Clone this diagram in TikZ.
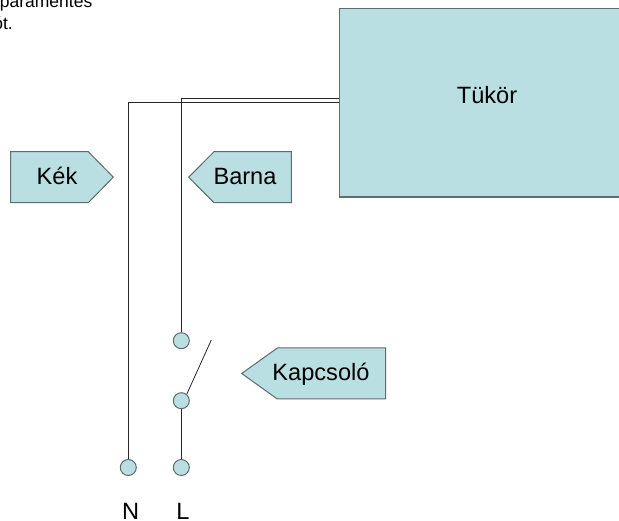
\documentclass[tikz,border=0pt]{standalone}
\usepackage{fontspec}
\setmainfont{Liberation Sans}
\definecolor{fillc}{HTML}{BADFE2}
\definecolor{edgec}{HTML}{5F6B6C}
\tikzset{
  x=1pt,y=-1pt,
  wire/.style={draw=black!85,line width=0.9pt},
  shapeedge/.style={draw=edgec,fill=fillc,line width=1pt,line join=miter},
  term/.style={circle,draw=edgec,fill=fillc,line width=1pt,minimum size=16pt,inner sep=0pt},
  box/.style={rectangle,draw=edgec,fill=fillc,line width=1.2pt,minimum width=295pt,minimum height=188.5pt,inner sep=0pt},
  lab/.style={font=\fontsize{23.6}{26}\selectfont,text=black,inner sep=0pt,anchor=base},
  small/.style={font=\fontsize{17.5}{21}\selectfont,text=black,inner sep=0pt,anchor=base east}
}
\begin{document}
\begin{tikzpicture}
\useasboundingbox (0,0) rectangle (619,521);
\node[small] (t1) at (92.5,8) {paramentes};
\node[small] (t2) at (13,29.5) {ót.};
\coordinate (ncorner) at (128.3,102.5);
\coordinate (lcorner) at (181.3,98.7);
\coordinate (boxn) at (339.5,102.5);
\coordinate (boxl) at (339.5,98.7);
\node[term] (nterm) at (128.3,467.5) {};
\node[term] (lterm) at (181.3,467.5) {};
\node[term] (swb) at (181.3,400.7) {};
\node[term] (swt) at (181.3,340.7) {};
\coordinate (swtip) at (211.3,340);
\draw[wire] (boxn) -- (ncorner) -- (nterm);
\draw[wire] (boxl) -- (lcorner) -- (swt);
\draw[wire] (swb) -- (lterm);
\draw[wire,line width=0.8pt] (swb.50) -- (swtip);
\node[box] (mirror) at (487,102.75) {};
\node[lab] (tuk) at (487,104) {Tükör};
\draw[shapeedge] (10.7,151.7) -- (88.3,151.7) -- (113.3,177.2) -- (88.3,202.7) -- (10.7,202.7) -- cycle;
\node[lab] (kek) at (57,185) {Kék};
\draw[shapeedge] (291.3,151.7) -- (214,151.7) -- (188.7,177.2) -- (214,202.7) -- (291.3,202.7) -- cycle;
\node[lab] (barna) at (245,185) {Barna};
\draw[shapeedge] (385.7,348) -- (277.3,348) -- (241.7,373.5) -- (277.3,399) -- (385.7,399) -- cycle;
\node[lab] (kap) at (321,381) {Kapcsoló};
\node[lab] (n) at (130.7,519.5) {N};
\node[lab] (l) at (183,519.5) {L};
\end{tikzpicture}
\end{document}
